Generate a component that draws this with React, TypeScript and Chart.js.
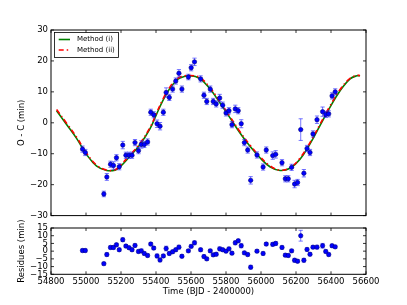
import React, { useEffect, useRef } from "react";
import { Chart, registerables } from "chart.js";
Chart.register(...registerables);

const times = [54980, 54996, 55102, 55119, 55140, 55157, 55174, 55190, 55210, 55228,
  55246, 55263, 55280, 55300, 55316, 55333, 55352, 55370, 55387, 55406,
  55423, 55442, 55458, 55476, 55495, 55513, 55531, 55548, 55585, 55601,
  55620, 55655, 55674, 55690, 55710, 55727, 55744, 55764, 55781, 55800,
  55817, 55834, 55853, 55870, 55887, 55905, 55924, 55941, 55977, 56012,
  56030, 56067, 56084, 56120, 56139, 56156, 56175, 56192, 56209, 56227,
  56245, 56263, 56280, 56297, 56320, 56352, 56370, 56387, 56406, 56424];

const ocValues = [-8.5, -9.6, -23.0, -17.5, -13.4, -13.8, -11.3, -14.2, -7.2, -10.5,
  -10.5, -10.5, -6.4, -9.0, -7.0, -7.0, -6.2, 3.4, 2.6, -0.3,
  -1.1, 3.4, 9.8, 8.2, 10.9, 13.5, 16.0, 10.9, 14.8, 17.8,
  19.7, 14.2, 8.9, 6.9, 10.9, 6.9, 6.1, 8.0, 5.7, 3.2,
  3.9, -0.6, 4.5, 3.9, -0.3, -6.4, -8.8, -18.6, -10.4, -14.3,
  -8.8, -10.6, -10.2, -12.9, -18.1, -18.1, -14.4, -19.8, -19.3, -2.2,
  -16.3, -8.3, -9.6, -3.6, 1.0, 3.6, 2.7, 2.9, 8.7, 10.0];

const ocErrors = [1.0, 1.0, 0.9, 1.1, 1.0, 1.2, 1.0, 1.0, 1.2, 1.0,
  1.0, 1.0, 1.0, 1.0, 1.2, 1.0, 1.0, 1.0, 1.0, 1.2,
  1.2, 1.0, 1.5, 1.0, 1.0, 1.0, 1.2, 1.0, 0.9, 1.0,
  1.2, 1.0, 1.0, 1.0, 1.0, 1.0, 1.0, 1.2, 1.0, 1.0,
  1.0, 1.0, 1.2, 1.0, 1.3, 1.0, 1.0, 1.2, 1.0, 1.0,
  1.0, 1.2, 1.2, 1.0, 1.0, 1.0, 1.0, 1.2, 1.0, 3.5,
  1.2, 1.0, 1.0, 1.0, 1.2, 1.5, 1.0, 1.0, 1.0, 1.0];

const residuals = [0.4, 0.4, -8.1, -2.2, 2.4, 2.4, 4.1, 0.9, 7.4, 3.3,
  2.2, 0.9, 3.7, -0.2, 0.2, -1.5, -2.8, 4.6, 2.0, -3.1,
  -5.7, -3.1, 1.7, -1.5, -0.4, 0.9, 2.6, -3.3, 0.2, 3.1,
  5.4, 0.9, -3.5, -5.0, 0.2, -2.4, -2.0, 1.5, 0.9, 0.0,
  1.5, -1.3, 5.4, 6.7, 3.5, -1.1, -2.2, -10.4, 0.0, -1.5,
  4.6, 4.4, 5.0, 2.4, -2.6, -2.8, 0.2, -5.9, -6.5, 10.0,
  -5.9, 1.1, -2.0, 2.6, 2.6, 3.5, -0.2, -2.2, 3.5, 2.8];

const fitTimes = [54832, 54890, 54947, 55004, 55061, 55118, 55166, 55194, 55251, 55309,
  55366, 55404, 55442, 55480, 55509, 55537, 55594, 55651, 55709, 55766,
  55823, 55880, 55937, 55994, 56051, 56109, 56166, 56223, 56280, 56337,
  56394, 56451, 56509, 56547, 56566];

const fitMethodI = [3.9, -0.6, -5.1, -10.3, -14.0, -15.4, -15.3, -14.3, -10.8, -7.0,
  -1.9, 2.9, 7.5, 11.2, 13.2, 14.5, 15.2, 14.3, 10.9, 6.4,
  1.6, -3.3, -7.6, -11.3, -14.2, -15.4, -14.7, -11.8, -6.8, -0.9,
  5.0, 10.3, 14.2, 15.2, 15.2];

const fitMethodII = [4.3, -0.2, -4.7, -9.9, -13.7, -15.3, -15.2, -13.9, -10.4, -6.6,
  -1.5, 3.3, 7.9, 11.6, 13.5, 14.8, 15.3, 14.6, 11.3, 6.8,
  2.0, -2.9, -7.2, -10.9, -13.9, -15.3, -14.5, -11.4, -6.4, -0.5,
  5.4, 10.7, 14.4, 15.3, 15.3];

const xTicks = [54800, 55000, 55200, 55400, 55600, 55800, 56000, 56200, 56400, 56600];
const yTicksMain = [-30, -20, -10, 0, 10, 20, 30];
const yTicksRes = [-15, -10, -5, 0, 5, 10, 15];

const FONT = "'DejaVu Sans', sans-serif";
const FS = 8.5;
const fmt = (v: number) => String(v).replace("-", "\u2212");

const errorBarPlugin = {
  id: "errorBars",
  beforeDatasetDraw(chart: any, args: any, opts: any) {
    if (args.index !== 0) return;
    const { ctx, scales } = chart;
    const xs = scales.x, ys = scales.y;
    const data = chart.data.datasets[0].data;
    const errs: number[] = opts.errors || [];
    ctx.save();
    ctx.strokeStyle = "rgba(30,30,255,0.6)";
    ctx.lineWidth = 1;
    data.forEach((d: any, i: number) => {
      const e = errs[i] || 0;
      const px = xs.getPixelForValue(d.x);
      const y1 = ys.getPixelForValue(d.y - e);
      const y2 = ys.getPixelForValue(d.y + e);
      ctx.beginPath();
      ctx.moveTo(px, y1); ctx.lineTo(px, y2);
      ctx.moveTo(px - 2.1, y1); ctx.lineTo(px + 2.1, y1);
      ctx.moveTo(px - 2.1, y2); ctx.lineTo(px + 2.1, y2);
      ctx.stroke();
    });
    ctx.restore();
  },
};

const makeFramePlugin = (yTicks: number[]) => ({
  id: "frameTicks",
  afterDraw(chart: any) {
    const { ctx, chartArea, scales } = chart;
    const { left, right, top, bottom } = chartArea;
    ctx.save();
    ctx.strokeStyle = "#000";
    ctx.lineWidth = 0.8;
    ctx.beginPath();
    xTicks.forEach((v) => {
      const px = scales.x.getPixelForValue(v);
      ctx.moveTo(px, bottom); ctx.lineTo(px, bottom - 3);
      ctx.moveTo(px, top); ctx.lineTo(px, top + 3);
    });
    yTicks.forEach((v) => {
      const py = scales.y.getPixelForValue(v);
      ctx.moveTo(left, py); ctx.lineTo(left + 3, py);
      ctx.moveTo(right, py); ctx.lineTo(right - 3, py);
    });
    ctx.stroke();
    ctx.lineWidth = 1;
    ctx.strokeRect(left, top, right - left, bottom - top);
    ctx.restore();
  },
});

const legendPlugin = {
  id: "fitLegend",
  afterDraw(chart: any) {
    const { ctx, chartArea } = chart;
    const bx = chartArea.left + 3.5, by = chartArea.top + 2.5, bw = 64, bh = 25;
    ctx.save();
    ctx.fillStyle = "#fff";
    ctx.fillRect(bx, by, bw, bh);
    ctx.strokeStyle = "#000";
    ctx.lineWidth = 0.8;
    ctx.strokeRect(bx, by, bw, bh);
    const items = [
      { label: "Method (i)", color: "#008000", dash: [] as number[], dy: 7 },
      { label: "Method (ii)", color: "#ff0000", dash: [5, 3, 1.5, 3], dy: 17.5 },
    ];
    items.forEach((it) => {
      ctx.strokeStyle = it.color;
      ctx.lineWidth = 1.6;
      ctx.setLineDash(it.dash);
      ctx.beginPath();
      ctx.moveTo(bx + 4.2, by + it.dy);
      ctx.lineTo(bx + 15.5, by + it.dy);
      ctx.stroke();
      ctx.setLineDash([]);
      ctx.fillStyle = "#000";
      ctx.font = `7px ${FONT}`;
      ctx.textBaseline = "middle";
      ctx.textAlign = "left";
      ctx.fillText(it.label, bx + 22.5, by + it.dy);
    });
    ctx.restore();
  },
};

const yAxis = (min: number, max: number, ticks: number[], title: string) => ({
  type: "linear",
  min, max,
  afterBuildTicks: (s: any) => { s.ticks = ticks.map((v) => ({ value: v })); },
  afterFit: (s: any) => { s.width = 51; },
  grid: { display: false, drawTicks: false },
  border: { display: false },
  ticks: { font: { family: FONT, size: FS, lineHeight: 0.8 }, color: "#000", padding: 3, autoSkip: false, callback: (v: any) => fmt(Number(v)) },
  title: { display: true, text: title, color: "#000", font: { family: FONT, size: FS }, padding: { top: 17, bottom: 0 } },
});

const pointStyle = {
  backgroundColor: "#0000ff",
  borderColor: "#000080",
  borderWidth: 0.6,
  pointRadius: 2.2,
  showLine: false,
};

export default function App() {
  const mainRef = useRef<HTMLCanvasElement>(null);
  const resRef = useRef<HTMLCanvasElement>(null);

  useEffect(() => {
    const main = new Chart(mainRef.current as HTMLCanvasElement, {
      type: "scatter",
      data: {
        datasets: [
          { label: "O - C", data: times.map((t, i) => ({ x: t, y: ocValues[i] })), ...pointStyle } as any,
          { type: "line", label: "Method (ii)", data: fitTimes.map((t, i) => ({ x: t, y: fitMethodII[i] })), borderColor: "#ff0000", borderWidth: 1.6, borderDash: [5, 3, 1.5, 3], pointRadius: 0, tension: 0.4, fill: false } as any,
          { type: "line", label: "Method (i)", data: fitTimes.map((t, i) => ({ x: t, y: fitMethodI[i] })), borderColor: "#008000", borderWidth: 1.6, pointRadius: 0, tension: 0.4, fill: false } as any,
        ],
      },
      options: {
        animation: false,
        responsive: false,
        events: [],
        layout: { padding: { top: 30, right: 41, bottom: 3.3, left: 0 } },
        plugins: { legend: { display: false }, tooltip: { enabled: false }, errorBars: { errors: ocErrors } } as any,
        scales: {
          x: {
            type: "linear", min: 54800, max: 56600,
            afterBuildTicks: (s: any) => { s.ticks = xTicks.map((v) => ({ value: v })); },
            afterFit: (s: any) => { s.height = 0; },
            grid: { display: false, drawTicks: false },
            border: { display: false },
            ticks: { display: false },
          },
          y: yAxis(-30, 30, yTicksMain, "O - C (min)"),
        } as any,
      },
      plugins: [errorBarPlugin, makeFramePlugin(yTicksMain), legendPlugin],
    });

    const res = new Chart(resRef.current as HTMLCanvasElement, {
      type: "scatter",
      data: {
        datasets: [
          { label: "Residues", data: times.map((t, i) => ({ x: t, y: residuals[i] })), ...pointStyle } as any,
        ],
      },
      options: {
        animation: false,
        responsive: false,
        events: [],
        layout: { padding: { top: 16, right: 41, bottom: 0, left: 0 } },
        plugins: { legend: { display: false }, tooltip: { enabled: false }, errorBars: { errors: ocErrors } } as any,
        scales: {
          x: {
            type: "linear", min: 54800, max: 56600,
            afterBuildTicks: (s: any) => { s.ticks = xTicks.map((v) => ({ value: v })); },
            afterFit: (s: any) => { s.height = 30.7; },
            grid: { display: false, drawTicks: false },
            border: { display: false },
            ticks: { font: { family: FONT, size: FS }, color: "#000", padding: 2, autoSkip: false, maxRotation: 0, minRotation: 0, callback: (v: any) => String(v) },
            title: { display: true, text: "Time (BJD - 2400000)", color: "#000", font: { family: FONT, size: FS }, padding: { top: 0, bottom: 8 } },
          },
          y: yAxis(-15, 15, yTicksRes, "Residues (min)"),
        } as any,
      },
      plugins: [errorBarPlugin, makeFramePlugin(yTicksRes)],
    });

    return () => { main.destroy(); res.destroy(); };
  }, []);

  return (
    <div style={{ position: "fixed", left: 0, top: 0, width: 407, height: 305, background: "#fff" }}>
      <canvas ref={mainRef} width={407} height={222} style={{ position: "absolute", left: 0, top: 0 }} />
      <canvas ref={resRef} width={407} height={93} style={{ position: "absolute", left: 0, top: 212 }} />
    </div>
  );
}
